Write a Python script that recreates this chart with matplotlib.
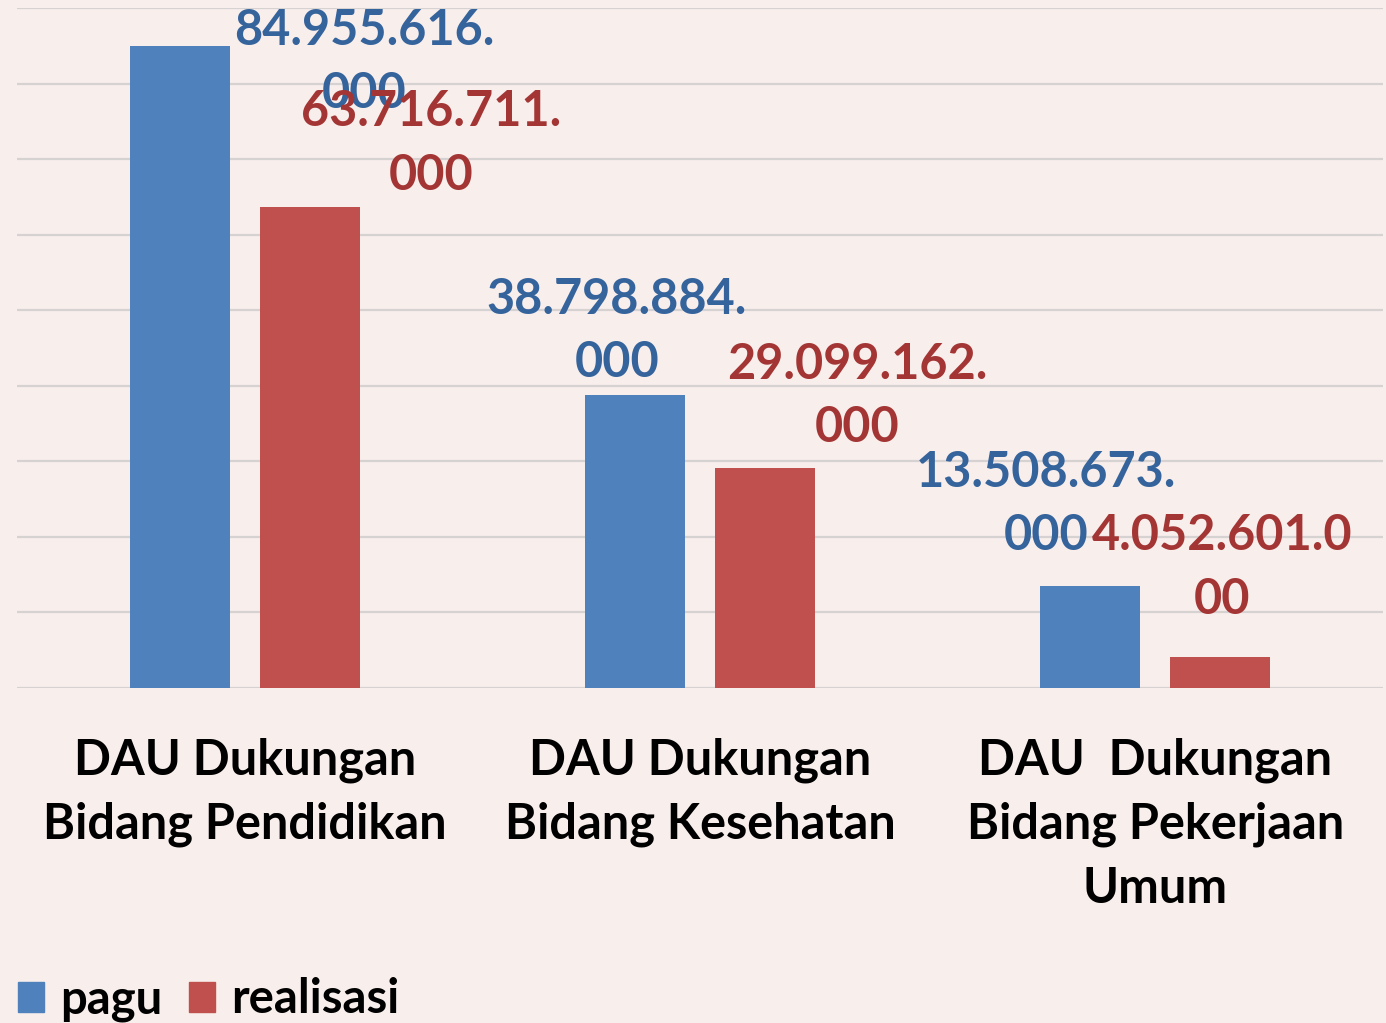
import matplotlib
matplotlib.use("Agg")
import numpy as np
import matplotlib.pyplot as plt
from matplotlib.patches import Patch

categories = ["DAU Dukungan\nBidang Pendidikan",
              "DAU Dukungan\nBidang Kesehatan",
              "DAU  Dukungan\nBidang Pekerjaan\nUmum"]
series_names = ["pagu", "realisasi"]
pagu = [84955616000, 38798884000, 13508673000]
realisasi = [63716711000, 29099162000, 4052601000]

bar_colors = ["#4F81BD", "#C0504D"]
label_colors = ["#35639B", "#A33634"]
# label nudges (pixels) relative to each bar top, as Excel left them
label_dx = [[184, -18, -44], [121, 92, 2]]
label_dy = [[-16, 64, 82], [63, 72, 90]]

plt.rcParams["font.family"] = ["Lato", "DejaVu Sans"]
plt.rcParams["font.weight"] = "bold"

fig = plt.figure(figsize=(13.86, 10.23), dpi=100, facecolor="#F8EEEC")
ax = fig.add_axes([0.0126, 0.3275, 0.985, 0.6647])
ax.set_facecolor("none")

x = np.arange(len(categories))
width = 0.22
offsets = [-0.143, 0.143]

for s, vals in enumerate([pagu, realisasi]):
    bars = ax.bar(x + offsets[s], vals, width, color=bar_colors[s], zorder=3)
    for i, (b, v) in enumerate(zip(bars, vals)):
        txt = f"{v:,}".replace(",", ".")
        txt = txt[:11] + "\n" + txt[11:]
        ax.annotate(txt, (b.get_x() + b.get_width() / 2, v),
                    xytext=(label_dx[s][i], label_dy[s][i]),
                    textcoords="offset pixels", ha="center", va="center",
                    fontsize=35, fontweight="bold", color=label_colors[s],
                    linespacing=1.5, zorder=4, annotation_clip=False)

ax.set_xlim(-0.5, 2.5)
ax.set_ylim(0, 90e9)
ax.set_yticks(np.arange(0, 90e9 + 1, 10e9))
ax.yaxis.grid(True, color="#D6D2D2", linewidth=1.6, zorder=0)
ax.tick_params(axis="y", left=False, labelleft=False)
ax.tick_params(axis="x", length=0, pad=36)
ax.set_xticks(x)
ax.set_xticklabels(categories, fontsize=35, fontweight="bold", color="black",
                   linespacing=1.5)
for sp in ax.spines.values():
    sp.set_visible(False)

handles = [Patch(color=c) for c in bar_colors]
fig.legend(handles, series_names, loc="lower left", bbox_to_anchor=(-0.004, -0.022),
           ncol=2, frameon=False, fontsize=34, handlelength=0.55, handleheight=0.6,
           handletextpad=0.35, columnspacing=0.55, borderpad=0)

fig.savefig("out.png", dpi=100, facecolor=fig.get_facecolor())
